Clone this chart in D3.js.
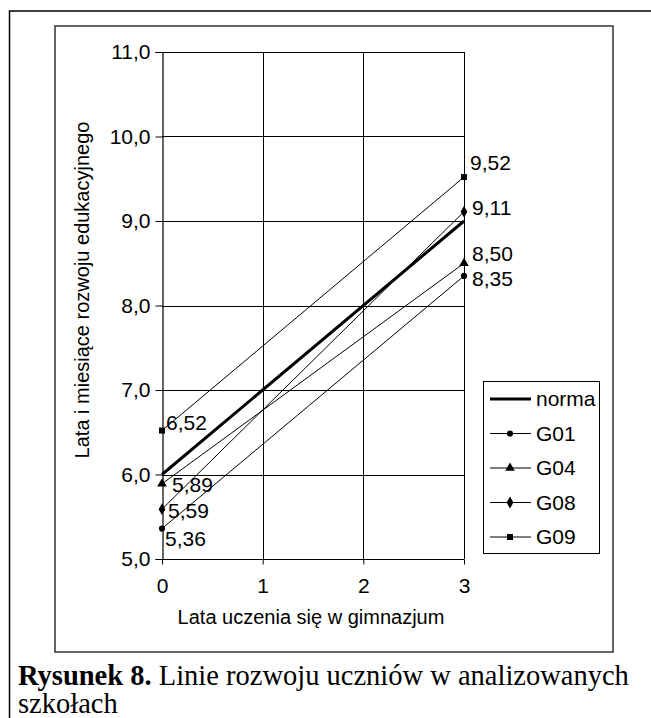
<!DOCTYPE html>
<html>
<head>
<meta charset="utf-8">
<script src="https://cdn.jsdelivr.net/npm/d3@7"></script>
<style>
  body { margin: 0; background: #fff; }
  svg { display: block; }
</style>
</head>
<body>
<div id="chart"></div>
<script>
// values
const years = [0, 3];
const seriesNames = ["norma", "G01", "G04", "G08", "G09"];
const norma = [6.0, 9.0];
const g01 = [5.36, 8.35];
const g04 = [5.89, 8.50];
const g08 = [5.59, 9.11];
const g09 = [6.52, 9.52];
const yTicks = [5, 6, 7, 8, 9, 10, 11];
const xTicks = [0, 1, 2, 3];

const width = 651, height = 718;
const fontSans = "Liberation Sans, Arial, sans-serif";
const fontSerif = "Liberation Serif, Times New Roman, serif";

const svg = d3.select("#chart").append("svg")
    .attr("width", width)
    .attr("height", height);

// outer frame and chart frame
svg.append("rect")
    .attr("x", 9.5).attr("y", 11)
    .attr("width", 650).attr("height", 720)
    .attr("fill", "none").attr("stroke", "#000").attr("stroke-width", 1.5);

svg.append("rect")
    .attr("x", 55).attr("y", 26)
    .attr("width", 558).attr("height", 626)
    .attr("fill", "none").attr("stroke", "#333").attr("stroke-width", 1.5);

const x = d3.scaleLinear().domain([0, 3]).range([162, 464]);
const y = d3.scaleLinear().domain([5, 11]).range([559, 52]);

// grid
svg.append("g").selectAll("line")
    .data(yTicks.slice(1))
    .join("line")
    .attr("x1", x(0)).attr("x2", x(3))
    .attr("y1", d => Math.round(y(d)) + 0.5).attr("y2", d => Math.round(y(d)) + 0.5)
    .attr("stroke", "#000").attr("stroke-width", 1);

svg.append("g").selectAll("line")
    .data(xTicks.slice(1))
    .join("line")
    .attr("x1", d => Math.round(x(d)) + 0.5).attr("x2", d => Math.round(x(d)) + 0.5)
    .attr("y1", y(5)).attr("y2", y(11))
    .attr("stroke", "#000").attr("stroke-width", 1);

// axes
const yAxis = d3.axisLeft(y).tickValues(yTicks).tickSize(7).tickPadding(5)
    .tickFormat(d => d3.format(".1f")(d).replace(".", ","));
const gy = svg.append("g").attr("transform", `translate(${Math.round(x(0)) + 0.5},0)`).call(yAxis);

const xAxis = d3.axisBottom(x).tickValues(xTicks).tickSize(5).tickPadding(14)
    .tickFormat(d3.format("d"));
const gx = svg.append("g").attr("transform", `translate(0,${Math.round(y(5)) + 0.5})`).call(xAxis);

[gx, gy].forEach(g => {
    g.select(".domain").attr("stroke", "#000").attr("stroke-width", 1.2);
    g.selectAll(".tick line").attr("stroke", "#000");
    g.selectAll("text").attr("fill", "#000")
        .style("font-family", fontSans).style("font-size", "21px");
});
gx.select(".domain").attr("d", `M${x(0)},0H${x(3)}`);

// axis titles
svg.append("text")
    .attr("x", 311).attr("y", 624)
    .attr("text-anchor", "middle")
    .style("font-family", fontSans).style("font-size", "20px")
    .text("Lata uczenia się w gimnazjum");

svg.append("text")
    .attr("transform", "translate(89,290) rotate(-90)")
    .attr("text-anchor", "middle")
    .style("font-family", fontSans).style("font-size", "20px")
    .text("Lata i miesiące rozwoju edukacyjnego");

// series
const series = [
    { name: seriesNames[0], values: norma, marker: null, width: 3 },
    { name: seriesNames[1], values: g01, marker: d3.symbolCircle, size: 30, width: 1 },
    { name: seriesNames[2], values: g04, marker: d3.symbolTriangle, size: 40, width: 1 },
    { name: seriesNames[3], values: g08, marker: d3.symbolDiamond, size: 40, width: 1 },
    { name: seriesNames[4], values: g09, marker: d3.symbolSquare, size: 36, width: 1 }
];

const line = d3.line().x(d => x(d[0])).y(d => y(d[1]));

series.forEach(s => {
    const pts = years.map((yr, i) => [yr, s.values[i]]);
    svg.append("path")
        .datum(pts)
        .attr("d", line)
        .attr("fill", "none")
        .attr("stroke", "#000")
        .attr("stroke-width", s.width);
    if (s.marker) {
        svg.append("g").selectAll("path")
            .data(pts)
            .join("path")
            .attr("transform", d => `translate(${x(d[0])},${y(d[1])})`)
            .attr("d", d3.symbol().type(s.marker).size(s.size))
            .attr("fill", "#000");
    }
});

// data labels (offsets from the point, in px)
const labelOffsets = {
    G01: [[3, 10], [8, 3]],
    G04: [[10, 1], [8, -10]],
    G08: [[6, 2], [8, -4]],
    G09: [[4, -8], [6, -14]]
};
series.slice(1).forEach(s => {
    years.forEach((yr, i) => {
        const off = labelOffsets[s.name][i];
        svg.append("text")
            .attr("x", x(yr) + off[0])
            .attr("y", y(s.values[i]) + off[1])
            .attr("dy", "0.35em")
            .style("font-family", fontSans).style("font-size", "21px")
            .text(d3.format(".2f")(s.values[i]).replace(".", ","));
    });
});

// legend
const legend = svg.append("g");
legend.append("rect")
    .attr("x", 483.5).attr("y", 381.5)
    .attr("width", 116).attr("height", 172)
    .attr("fill", "#fff").attr("stroke", "#000").attr("stroke-width", 1);

series.forEach((s, i) => {
    const ly = 399 + i * 34.5;
    const g = legend.append("g").attr("transform", `translate(0,${ly})`);
    g.append("line")
        .attr("x1", 490).attr("x2", 531)
        .attr("stroke", "#000").attr("stroke-width", s.width);
    if (s.marker) {
        g.append("path")
            .attr("transform", "translate(510,0)")
            .attr("d", d3.symbol().type(s.marker).size(s.size))
            .attr("fill", "#000");
    }
    g.append("text")
        .attr("x", 536).attr("dy", "0.35em")
        .style("font-family", fontSans).style("font-size", "21px")
        .text(s.name);
});

// caption
const cap = svg.append("text")
    .attr("x", 18).attr("y", 685)
    .style("font-family", fontSerif)
    .style("font-size", "28.5px");
cap.append("tspan").style("font-weight", "bold").text("Rysunek 8.");
cap.append("tspan").text(" Linie rozwoju uczniów w analizowanych");
svg.append("text")
    .attr("x", 18).attr("y", 713)
    .style("font-family", fontSerif)
    .style("font-size", "28.5px")
    .text("szkołach");
</script>
</body>
</html>
